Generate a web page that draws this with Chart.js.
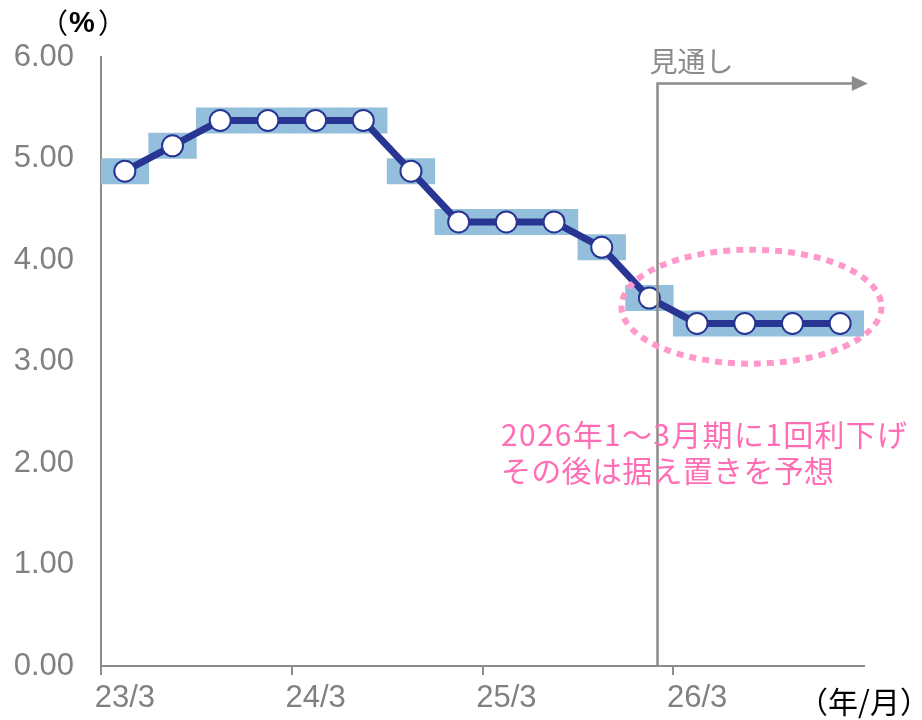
<!DOCTYPE html>
<html>
<head>
<meta charset="utf-8">
<script src="https://cdn.jsdelivr.net/npm/chart.js@4/dist/chart.umd.min.js"></script>
<style>
  html, body { margin: 0; padding: 0; background: #ffffff; }
  #wrap { width: 922px; height: 720px; }
</style>
</head>
<body>
<div id="wrap"><canvas id="c" width="922" height="720"></canvas></div>
<script>
// ---- data ----
const categories = ["23/3","23/6","23/9","23/12","24/3","24/6","24/9","24/12",
                    "25/3","25/6","25/9","25/12","26/3","26/6","26/9","26/12"];
const tickLabels = ["23/3","","","","24/3","","","","25/3","","","","26/3","","",""];
const policyRate = [4.875,5.125,5.375,5.375,5.375,5.375,4.875,4.375,
                    4.375,4.375,4.125,3.625,3.375,3.375,3.375,3.375];
const rangeLow  = [4.75,5.00,5.25,5.25,5.25,5.25,4.75,4.25,
                   4.25,4.25,4.00,3.50,3.25,3.25,3.25,3.25];
const rangeHigh = [5.00,5.25,5.50,5.50,5.50,5.50,5.00,4.50,
                   4.50,4.50,4.25,3.75,3.50,3.50,3.50,3.50];
const yTicks = [0,1,2,3,4,5,6];
const forecastStartIndex = 11.67;   // position of 見通し boundary (category units)
const yUnit = ["（", "%", "）"];
const xUnit = "（年/月）";
const forecastLabel = "見通し";
const noteLines = ["2026年1～3月期に1回利下げ", "その後は据え置きを予想"];

const GRAY = "#8c8c8c";
const LABEL_GRAY = "#808080";
const CJK = '"Noto Sans CJK JP", "Noto Sans", sans-serif';
const LAT = '"Liberation Sans", Arial, sans-serif';

const overlay = {
  id: "overlay",
  afterDatasetsDraw(chart) {
    const ctx = chart.ctx;
    const x = chart.scales.x, y = chart.scales.y;
    const catW = (x.right - x.left) / categories.length;
    const px = i => x.left + i * catW;
    ctx.save();
    // forecast line & arrow
    const fx = px(forecastStartIndex);
    const ay = y.getPixelForValue(5.74);
    const ax2 = px(16.08);
    ctx.strokeStyle = GRAY;
    ctx.lineWidth = 2.5;
    ctx.beginPath();
    ctx.moveTo(fx, y.bottom);
    ctx.lineTo(fx, ay);
    ctx.lineTo(ax2 - 14, ay);
    ctx.stroke();
    ctx.fillStyle = GRAY;
    ctx.beginPath();
    ctx.moveTo(ax2, ay);
    ctx.lineTo(ax2 - 16, ay - 7.5);
    ctx.lineTo(ax2 - 16, ay + 7.5);
    ctx.closePath();
    ctx.fill();
    ctx.font = "28px " + CJK;
    ctx.textAlign = "left";
    ctx.textBaseline = "middle";
    ctx.fillText(forecastLabel, fx - 8, ay - 22);

    // dotted ellipse
    const ex = px(13.64), ey = y.getPixelForValue(3.54);
    ctx.strokeStyle = "#ff99cc";
    ctx.lineWidth = 6;
    ctx.setLineDash([7, 6]);
    ctx.beginPath();
    ctx.ellipse(ex, ey, 130, 57, 0, 0, Math.PI * 2);
    ctx.stroke();
    ctx.setLineDash([]);

    // note text
    ctx.fillStyle = "#ff6eb4";
    ctx.font = "30px " + CJK;
    ctx.textAlign = "left";
    ctx.letterSpacing = "1.3px";
    ctx.fillText(noteLines[0], 501, 435);
    ctx.letterSpacing = "0.3px";
    ctx.fillText(noteLines[1], 501, 471);
    ctx.letterSpacing = "0px";

    // units
    ctx.fillStyle = "#000000";
    ctx.font = "28px " + CJK;
    ctx.textAlign = "left";
    ctx.fillText(yUnit[0], 40, 23);
    ctx.font = "bold 29px " + LAT;
    ctx.fillText(yUnit[1], 69, 24);
    ctx.font = "28px " + CJK;
    ctx.fillText(yUnit[2], 98, 23);
    ctx.font = "30px " + CJK;
    ctx.textAlign = "center";
    ctx.fillText(xUnit, px(16), 702);
    ctx.restore();
  }
};

new Chart(document.getElementById("c"), {
  data: {
    labels: categories,
    datasets: [
      {
        type: "line",
        data: policyRate,
        borderColor: "#283593",
        borderWidth: 7,
        pointRadius: 10.5,
        pointBackgroundColor: "#ffffff",
        pointBorderColor: "#283593",
        pointBorderWidth: 2,
        tension: 0,
        order: 1
      },
      {
        type: "bar",
        data: rangeLow.map((v, i) => [v, rangeHigh[i]]),
        backgroundColor: "#94bfdc",
        borderWidth: 0,
        barPercentage: 1,
        categoryPercentage: 1,
        order: 2
      }
    ]
  },
  options: {
    responsive: false,
    animation: false,
    layout: { padding: { top: 57, right: 58, bottom: 0, left: 0 } },
    plugins: { legend: { display: false }, tooltip: { enabled: false } },
    scales: {
      x: {
        type: "category",
        offset: true,
        afterFit: s => { s.height = 54; },
        border: { display: true, color: GRAY, width: 2 },
        grid: {
          offset: true,
          drawOnChartArea: false,
          drawTicks: true,
          tickLength: 9,
          lineWidth: 2,
          color: c => (c.index % 4 === 0 ? GRAY : "rgba(0,0,0,0)")
        },
        ticks: {
          autoSkip: false,
          maxRotation: 0,
          padding: 5,
          color: LABEL_GRAY,
          font: { family: LAT, size: 31 },
          callback: (v, i) => tickLabels[i]
        }
      },
      y: {
        min: 0,
        max: 6,
        afterFit: s => { s.width = 101; },
        afterBuildTicks: s => { s.ticks = yTicks.map(v => ({ value: v })); },
        border: { display: true, color: GRAY, width: 2 },
        grid: { display: false, drawTicks: false },
        ticks: {
          padding: 27,
          color: LABEL_GRAY,
          font: { family: LAT, size: 31 },
          callback: v => v.toFixed(2)
        }
      }
    }
  },
  plugins: [overlay]
});
</script>
</body>
</html>
